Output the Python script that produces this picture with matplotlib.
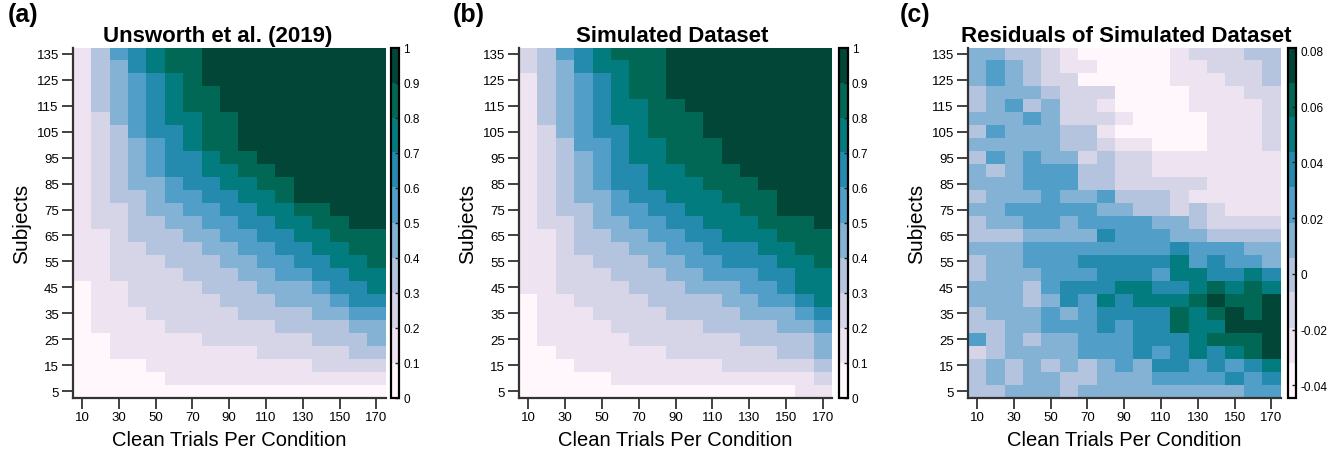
import matplotlib.pyplot as plt
import numpy as np

plt.rcParams['font.family'] = ['Liberation Sans', 'DejaVu Sans']

# x: clean trials per condition, y: subjects (top row first)
trials = [10, 20, 30, 40, 50, 60, 70, 80, 90, 100, 110, 120, 130, 140, 150, 160, 170]
subjects = [135, 130, 125, 120, 115, 110, 105, 100, 95, 90, 85, 80, 75, 70,
            65, 60, 55, 50, 45, 40, 35, 30, 25, 20, 15, 10, 5]

# colour band (0-9) of every cell, one string per row
unsworth_levels = [
    "13567889999999999",
    "13467889999999999",
    "13456789999999999",
    "13456788999999999",
    "13456788999999999",
    "12456778899999999",
    "12356678899999999",
    "12345678899999999",
    "12345667889999999",
    "12345667788999999",
    "12344566778899999",
    "12334556677899999",
    "12234455667788999",
    "12233445566778899",
    "11233344556677888",
    "11223334455667788",
    "11222333445566778",
    "11222233344556677",
    "01122223334445667",
    "01122222333444566",
    "01112222233334455",
    "01111222222333344",
    "00111112222223334",
    "00111111112222233",
    "00001111111112222",
    "00000111111111111",
    "00000000000000000",
]

simulated_levels = [
    "23567888999999999",
    "23467788999999999",
    "13456788999999999",
    "13456788999999999",
    "13456778899999999",
    "13456778889999999",
    "12456678889999999",
    "12355677888999999",
    "12345677888999999",
    "12345667788899999",
    "12345667778889999",
    "12344566777888999",
    "12334556677788999",
    "12234455667778889",
    "11233445566777888",
    "11233344556667788",
    "11223334455666778",
    "11222333445556677",
    "11222233344455677",
    "01122223333445567",
    "01112222333344456",
    "01111222223333445",
    "01111122222233334",
    "00111111222222334",
    "00011111111222223",
    "00000111111111112",
    "00000000000000011",
]

residual_levels = [
    "44332100000122233",
    "45432110000112223",
    "45432200000111223",
    "34443222000011122",
    "34534221000011112",
    "44454222100001112",
    "35444331000001112",
    "44444332110001112",
    "35454423221111111",
    "43455533221111111",
    "44455533222221111",
    "34445445333211111",
    "44555554433232111",
    "34455455554432222",
    "33344446555443333",
    "44455555555655544",
    "34455566666756554",
    "34445556665776676",
    "44435666776678787",
    "44434657677789889",
    "34445456666878989",
    "33445556566877999",
    "53434455566678889",
    "23444455565676789",
    "34343434546656567",
    "34344334445555656",
    "33444344444444455",
]

prob_range = (0.0, 1.0)
resid_range = (-0.0444, 0.0812)

prob_ticks = [0, 0.1, 0.2, 0.3, 0.4, 0.5, 0.6, 0.7, 0.8, 0.9, 1]
prob_labels = ["0", "0.1", "0.2", "0.3", "0.4", "0.5", "0.6", "0.7", "0.8", "0.9", "1"]
resid_ticks = [-0.04, -0.02, 0, 0.02, 0.04, 0.06, 0.08]
resid_labels = ["-0.04", "-0.02", "0", "0.02", "0.04", "0.06", "0.08"]


def levels_to_values(rows, lo, hi):
    step = (hi - lo) / 10.0
    for r in rows:
        assert len(r) == len(trials)
    assert len(rows) == len(subjects)
    return np.array([[lo + (int(ch) + 0.5) * step for ch in r] for r in rows])


cmap = plt.get_cmap('PuBuGn', 10)

fig = plt.figure(figsize=(13.36, 4.56), dpi=100)

# tag, title, levels, range, colorbar ticks/labels, axes left px, cbar left px, tag x px, title x
panels = [
    ("(a)", "Unsworth et al. (2019)", unsworth_levels, prob_range, prob_ticks, prob_labels,
     72.7, 390.7, 8, 0.464),
    ("(b)", "Simulated Dataset", simulated_levels, prob_range, prob_ticks, prob_labels,
     519.0, 839.0, 453, 0.49),
    ("(c)", "Residuals of Simulated Dataset", residual_levels, resid_range, resid_ticks, resid_labels,
     967.7, 1287.7, 900, 0.505),
]

W, H = 1336.0, 456.0
bottom = (H - 398.5) / H
height = 350.0 / H

for tag, title, rows, (lo, hi), cticks, clabels, x0, cx0, tagx, tx in panels:
    ax = fig.add_axes([x0 / W, bottom, 313.0 / W, height])
    vals = levels_to_values(rows, lo, hi)
    mesh = ax.pcolormesh(trials, subjects, vals, cmap=cmap, vmin=lo, vmax=hi,
                         shading='nearest')
    ax.set_xlim(5, 175)
    ax.set_ylim(2.5, 137.5)
    ax.set_xticks([10, 30, 50, 70, 90, 110, 130, 150, 170])
    ax.set_yticks([5, 15, 25, 35, 45, 55, 65, 75, 85, 95, 105, 115, 125, 135])
    for side in ['top', 'right']:
        ax.spines[side].set_visible(False)
    for side in ['left', 'bottom']:
        ax.spines[side].set_linewidth(1.6)
        ax.spines[side].set_color('#333333')
    ax.tick_params(direction='out', length=8, width=1.3, color='#333333',
                   labelsize=9.5, pad=2)
    ax.set_xlabel("Clean Trials Per Condition", fontsize=14.5, labelpad=5)
    ax.set_ylabel("Subjects", fontsize=15, labelpad=4)
    ax.set_title(title, fontsize=16, fontweight='bold', pad=5, x=tx)
    fig.text(tagx / W, 1 - 3 / H, tag, fontsize=18, fontweight='bold',
             ha='left', va='top')

    cax = fig.add_axes([cx0 / W, bottom, 8.6 / W, height])
    cb = fig.colorbar(mesh, cax=cax)
    cb.set_ticks(cticks)
    cb.set_ticklabels(clabels)
    cb.outline.set_linewidth(1.6)
    cb.outline.set_edgecolor('black')
    cax.tick_params(direction='in', length=3, width=1, labelsize=8.5, pad=3,
                    color='#222222')

fig.savefig("out.png", dpi=100)
